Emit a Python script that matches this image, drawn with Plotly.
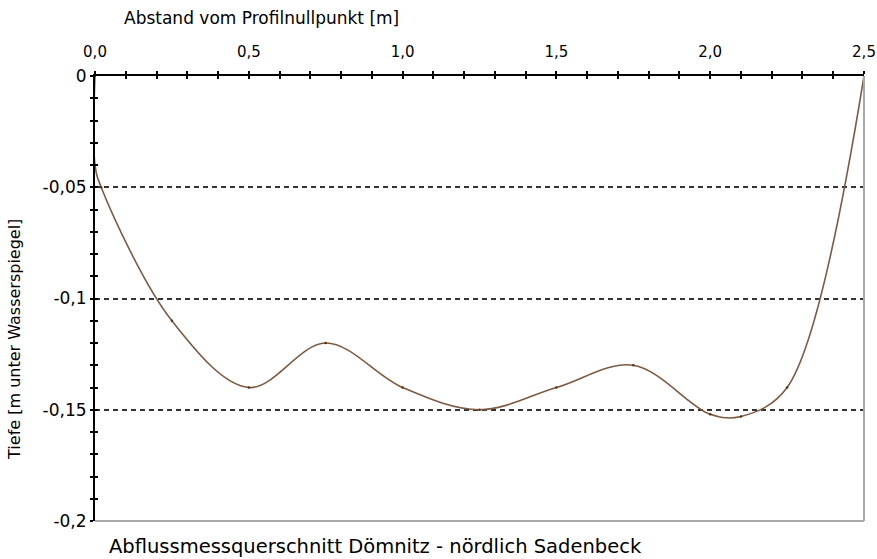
import plotly.graph_objects as go

# ---- data ----
dist_m = [0.0, 0.0, 0.02, 0.25, 0.5, 0.75, 1.0, 1.25, 1.5, 1.75, 2.0, 2.1, 2.25, 2.5]
depth_m = [0.0, -0.04, -0.05, -0.11, -0.14, -0.12, -0.14, -0.15, -0.14, -0.13, -0.152, -0.153, -0.14, 0.0]

x_tickvals = [0.0, 0.5, 1.0, 1.5, 2.0, 2.5]
x_ticktext = ["0,0", "0,5", "1,0", "1,5", "2,0", "2,5"]
y_tickvals = [0, -0.05, -0.1, -0.15, -0.2]
y_ticktext = ["0", "-0,05", "-0,1", "-0,15", "-0,2"]

x_title = "Abstand vom Profilnullpunkt [m]"
y_title = "Tiefe [m unter Wasserspiegel]"
caption = "Abflussmessquerschnitt Dömnitz - nördlich Sadenbeck"

FONT = "DejaVu Sans"
LINE_COLOR = "#7d5a42"

fig = go.Figure()
fig.add_trace(go.Scatter(
    x=dist_m, y=depth_m, mode="lines+markers",
    line=dict(color=LINE_COLOR, width=1.6, shape="spline", smoothing=1.0),
    marker=dict(size=2.5, color="#5a3218"),
    showlegend=False, hoverinfo="x+y",
))
# helper trace so the overlay axes (inner tick halves) are drawn
fig.add_trace(go.Scatter(x=[], y=[], xaxis="x2", yaxis="y2", showlegend=False, hoverinfo="skip"))

tickfont_x = dict(family=FONT, size=15, color="black")
tickfont_y = dict(family=FONT, size=17, color="black")

fig.update_layout(
    width=877, height=559, autosize=False,
    margin=dict(l=95, r=13, t=76, b=38, autoexpand=False),
    paper_bgcolor="white", plot_bgcolor="white",
    font=dict(family=FONT, color="black"),
    xaxis=dict(
        range=[0, 2.5], side="top", showline=True, linecolor="black", linewidth=2,
        tickmode="array", tickvals=x_tickvals, ticktext=x_ticktext,
        ticks="outside", ticklen=3, tickwidth=1.5, tickcolor="black",
        minor=dict(dtick=0.1, tick0=0, ticks="outside", ticklen=3, tickwidth=1.5,
                   tickcolor="black", showgrid=False),
        showgrid=False, zeroline=False, tickfont=tickfont_x, ticklabelstandoff=8,
        automargin=False, fixedrange=True,
    ),
    xaxis2=dict(
        range=[0, 2.5], overlaying="x", side="top", showline=False,
        tickmode="array", tickvals=x_tickvals, showticklabels=False,
        ticks="inside", ticklen=3, tickwidth=1.5, tickcolor="black",
        minor=dict(dtick=0.1, tick0=0, ticks="inside", ticklen=3, tickwidth=1.5,
                   tickcolor="black", showgrid=False),
        showgrid=False, zeroline=False, automargin=False, fixedrange=True,
    ),
    yaxis=dict(
        range=[-0.2, 0], showline=True, linecolor="black", linewidth=2,
        tickmode="array", tickvals=y_tickvals, ticktext=y_ticktext,
        ticks="outside", ticklen=3, tickwidth=1.5, tickcolor="black",
        minor=dict(dtick=0.01, tick0=0, ticks="outside", ticklen=3, tickwidth=1.5,
                   tickcolor="black", showgrid=False),
        showgrid=True, gridcolor="#333333", gridwidth=1.5, griddash="5px,4px",
        zeroline=False, tickfont=tickfont_y, automargin=False, fixedrange=True,
    ),
    yaxis2=dict(
        range=[-0.2, 0], overlaying="y", side="left", showline=False,
        tickmode="array", tickvals=y_tickvals, showticklabels=False,
        ticks="inside", ticklen=3, tickwidth=1.5, tickcolor="black",
        minor=dict(dtick=0.01, tick0=0, ticks="inside", ticklen=3, tickwidth=1.5,
                   tickcolor="black", showgrid=False),
        showgrid=False, zeroline=False, automargin=False, fixedrange=True,
    ),
    shapes=[
        dict(type="line", xref="paper", yref="paper", x0=1, x1=1, y0=0, y1=1,
             line=dict(color="#a8a8a8", width=2)),
        dict(type="line", xref="paper", yref="paper", x0=0, x1=1, y0=0, y1=0,
             line=dict(color="#a8a8a8", width=2)),
    ],
    annotations=[
        dict(text=x_title, xref="paper", yref="paper", x=0.217, y=1.13,
             xanchor="center", yanchor="middle", showarrow=False,
             font=dict(family=FONT, size=17, color="black")),
        dict(text=y_title, xref="paper", yref="paper", x=-0.104, y=0.407,
             xanchor="center", yanchor="middle", textangle=-90, showarrow=False,
             font=dict(family=FONT, size=16, color="black")),
        dict(text=caption, xref="paper", yref="paper", x=0.0156, y=-0.058,
             xanchor="left", yanchor="middle", showarrow=False,
             font=dict(family=FONT, size=19.5, color="black")),
    ],
)

fig.write_html(
    "out.html",
    config={"displayModeBar": False},
    post_script="document.body.style.margin='0';document.body.style.overflow='hidden';",
)
